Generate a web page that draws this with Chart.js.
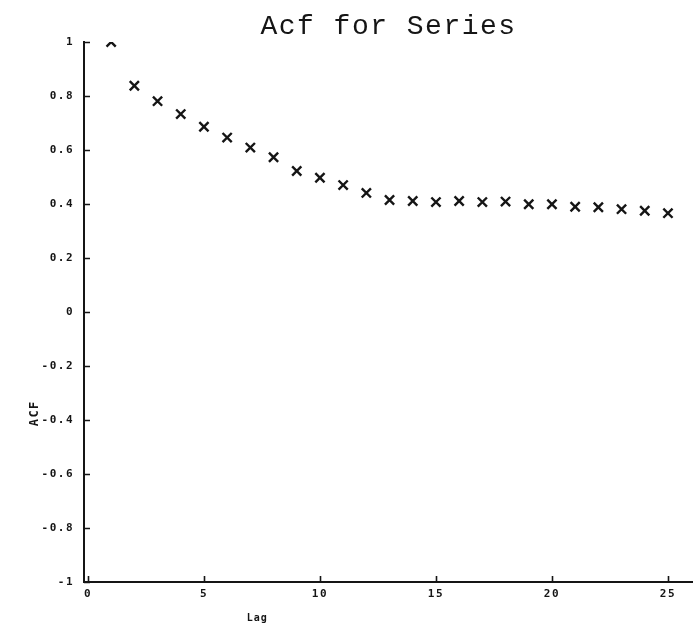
<!DOCTYPE html>
<html>
<head>
<meta charset="utf-8">
<title>Acf for Series</title>
<script src="https://cdn.jsdelivr.net/npm/chart.js@4.4.1/dist/chart.umd.min.js"></script>
<style>
  html, body { margin: 0; padding: 0; background: #ffffff; overflow: hidden; }
  #wrap { width: 693px; height: 636px; }
  canvas { display: block; }
</style>
</head>
<body>
<div id="wrap"><canvas id="acf" width="693" height="636"></canvas></div>
<script>
// Autocorrelation estimates by lag
const lags = [1, 2, 3, 4, 5, 6, 7, 8, 9, 10, 11, 12, 13, 14, 15, 16, 17, 18, 19, 20, 21, 22, 23, 24, 25];
const acfValues = [1.000, 0.838, 0.781, 0.733, 0.686, 0.646, 0.609, 0.573, 0.522, 0.497,
                   0.470, 0.441, 0.415, 0.411, 0.407, 0.411, 0.407, 0.409, 0.399, 0.399,
                   0.390, 0.388, 0.381, 0.375, 0.366];

// Axis ticks
const xTicks = [0, 5, 10, 15, 20, 25];
const yTicks = [-1, -0.8, -0.6, -0.4, -0.2, 0, 0.2, 0.4, 0.6, 0.8, 1];

const titleText = 'Acf for Series';
const xTitle = 'Lag';
const yTitle = 'ACF';

const ink = '#151515';
const points = lags.map((lag, i) => ({ x: lag, y: acfValues[i] }));

// Spaced-out lettering for every text drawn on the canvas
const letterSpacingPlugin = {
  id: 'letterSpacing',
  beforeDraw(chart) {
    chart.ctx.letterSpacing = '1.5px';
  }
};

// Short tick marks pointing into the plot, plus the axis captions
const axisDecor = {
  id: 'axisDecor',
  afterDraw(chart) {
    const { ctx, chartArea, scales } = chart;
    const xs = scales.x, ys = scales.y;
    ctx.save();
    ctx.strokeStyle = ink;
    ctx.lineWidth = 1.6;
    ctx.beginPath();
    yTicks.forEach(v => {
      const py = Math.round(ys.getPixelForValue(v)) + 0.5;
      ctx.moveTo(chartArea.left, py);
      ctx.lineTo(chartArea.left + 6, py);
    });
    xTicks.forEach(v => {
      const px = Math.round(xs.getPixelForValue(v)) + 0.5;
      ctx.moveTo(px, chartArea.bottom);
      ctx.lineTo(px, chartArea.bottom - 6);
    });
    ctx.stroke();

    ctx.fillStyle = ink;
    ctx.textAlign = 'center';
    ctx.textBaseline = 'middle';
    ctx.font = 'bold 10px "DejaVu Sans Mono"';
    ctx.letterSpacing = '1px';
    ctx.fillText(xTitle, xs.getPixelForValue(7.3), chartArea.bottom + 36);

    ctx.font = 'bold 12px "DejaVu Sans Mono"';
    ctx.letterSpacing = '1.5px';
    ctx.translate(35, ys.getPixelForValue(-0.375));
    ctx.rotate(-Math.PI / 2);
    ctx.fillText(yTitle, 0, 0);
    ctx.restore();
  }
};

new Chart(document.getElementById('acf'), {
  type: 'scatter',
  data: {
    datasets: [{
      data: points,
      pointStyle: 'crossRot',
      pointRadius: 6.5,
      pointBorderWidth: 2.4,
      borderColor: ink,
      backgroundColor: ink,
      showLine: false,
      clip: 0
    }]
  },
  options: {
    responsive: false,
    animation: false,
    events: [],
    layout: { autoPadding: false, padding: { left: 0, right: 0, top: 0, bottom: 0 } },
    plugins: {
      legend: { display: false },
      tooltip: { enabled: false },
      title: {
        display: true,
        text: titleText,
        fullSize: false,
        color: ink,
        font: { family: '"Liberation Mono"', size: 28, weight: 'normal', lineHeight: 1.0 },
        padding: { top: 13, bottom: 1 }
      }
    },
    scales: {
      x: {
        type: 'linear',
        min: -0.17,
        max: 26.08,
        afterBuildTicks: s => { s.ticks = xTicks.map(v => ({ value: v })); },
        afterFit: s => { s.height = 54; s.paddingLeft = 0; s.paddingRight = 0; },
        grid: { display: true, drawOnChartArea: false, drawTicks: false },
        border: { display: true, color: ink, width: 2 },
        ticks: {
          color: ink,
          padding: 6,
          maxRotation: 0,
          font: { family: '"DejaVu Sans Mono"', size: 11, weight: 'bold' },
          callback: v => String(v)
        }
      },
      y: {
        type: 'linear',
        min: -1,
        max: 1,
        afterBuildTicks: s => { s.ticks = yTicks.map(v => ({ value: v })); },
        afterFit: s => { s.width = 84; s.paddingTop = 0; s.paddingBottom = 0; },
        grid: { display: true, drawOnChartArea: false, drawTicks: false },
        border: { display: true, color: ink, width: 2 },
        ticks: {
          color: ink,
          padding: 10,
          font: { family: '"DejaVu Sans Mono"', size: 11, weight: 'bold' },
          callback: v => String(v)
        }
      }
    }
  },
  plugins: [letterSpacingPlugin, axisDecor]
});
</script>
</body>
</html>
